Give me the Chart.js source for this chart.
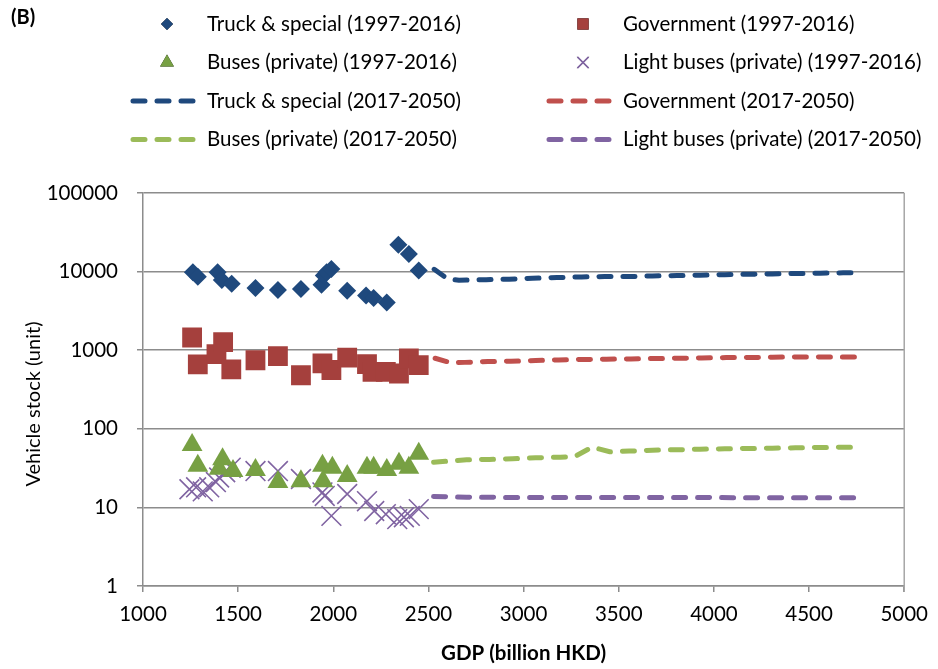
<!DOCTYPE html>
<html>
<head>
<meta charset="utf-8">
<script src="https://cdn.jsdelivr.net/npm/chart.js@4.4.1/dist/chart.umd.min.js"></script>
<style>
  body { margin: 0; background: #fff; }
  #wrap { position: relative; width: 938px; height: 669px; }
</style>
</head>
<body>
<div id="wrap"><canvas id="chart" width="938" height="669"></canvas></div>
<script>
// observed 1997-2016 (GDP in billion HKD, stock in units)
const truckGdp   = [1262, 1288, 1392, 1414, 1466, 1591, 1709, 1830, 1938, 1950, 1965, 1990, 2073, 2172, 2212, 2281, 2342, 2397, 2449];
const truckStock = [9800, 8600, 9800, 7800, 7000, 6200, 5850, 6000, 6800, 8900, 9800, 10800, 5700, 4950, 4600, 4050, 22000, 16800, 10300];

const govGdp   = [1258, 1288, 1386, 1421, 1464, 1591, 1709, 1830, 1943, 1990, 2073, 2177, 2206, 2276, 2345, 2397, 2449];
const govStock = [1450, 660, 890, 1270, 570, 745, 840, 480, 680, 560, 805, 665, 530, 530, 505, 785, 645];

const busGdp   = [1258, 1288, 1400, 1418, 1473, 1591, 1709, 1830, 1943, 1946, 1995, 2073, 2177, 2212, 2281, 2345, 2397, 2449];
const busStock = [62, 34, 31, 41, 29, 30, 21, 21.5, 34, 21.5, 32, 25, 32, 32, 30, 36, 32, 48];

const lightGdp   = [1244, 1279, 1314, 1348, 1383, 1400, 1432, 1461, 1591, 1709, 1830, 1943, 1955, 1990, 2073, 2177, 2215, 2276, 2336, 2371, 2402, 2449];
const lightStock = [17, 18, 16, 18, 21, 24, 28, 32, 29, 29, 23, 15.5, 14, 7.8, 14.8, 12, 9, 8.2, 7.1, 7.5, 7.8, 9.5];

// projections 2017-2050
const truckLineGdp   = [2530, 2600, 2660, 2803, 2924, 3046, 3175, 3305, 3426, 3555, 3676, 3806, 3927, 4057, 4178, 4307, 4428, 4558, 4679, 4774];
const truckLineStock = [10700, 8100, 7750, 7900, 8000, 8250, 8400, 8550, 8650, 8650, 8800, 8900, 9000, 9150, 9250, 9350, 9450, 9550, 9650, 9700];

const govLineGdp   = [2535, 2620, 2691, 2812, 2933, 3063, 3184, 3313, 3435, 3564, 3685, 3815, 3936, 4065, 4187, 4308, 4437, 4558, 4679, 4774];
const govLineStock = [790, 690, 700, 718, 724, 740, 753, 762, 768, 775, 783, 790, 797, 805, 807, 815, 820, 822, 822, 822];

const busLineGdp   = [2527, 2700, 2821, 2942, 3063, 3193, 3270, 3360, 3452, 3555, 3676, 3806, 3927, 4057, 4178, 4307, 4428, 4549, 4679, 4774];
const busLineStock = [37.5, 40.4, 40.8, 41.5, 42.8, 43.5, 44.5, 58.5, 51, 52, 53.5, 54.1, 55, 55.7, 56.1, 56.6, 57.3, 57.8, 58.3, 58.3];

const lightLineGdp   = [2527, 2700, 2900, 3100, 3300, 3500, 3700, 3900, 4100, 4300, 4500, 4774];
const lightLineStock = [13.8, 13.5, 13.4, 13.4, 13.4, 13.4, 13.4, 13.4, 13.3, 13.3, 13.3, 13.3];

const yTicks = [1, 10, 100, 1000, 10000, 100000];

const labels = [
  'Truck & special (1997-2016)', 'Government (1997-2016)',
  'Buses (private) (1997-2016)', 'Light buses (private) (1997-2016)',
  'Truck & special (2017-2050)', 'Government (2017-2050)',
  'Buses (private) (2017-2050)', 'Light buses (private) (2017-2050)'
];

function pts(xs, ys) {
  return xs.map((x, i) => ({ x: x, y: ys[i] }));
}

function marks(label, xs, ys, style, radius, color, cross) {
  return {
    label: label,
    data: pts(xs, ys),
    showLine: false,
    pointStyle: style,
    pointRadius: radius,
    pointHoverRadius: radius,
    pointBackgroundColor: color,
    pointBorderColor: color,
    pointBorderWidth: cross ? 1.6 : 0
  };
}

function dashed(label, xs, ys, color) {
  return {
    label: label,
    data: pts(xs, ys),
    showLine: true,
    borderColor: color,
    borderWidth: 5,
    borderDash: [12, 12],
    borderCapStyle: 'round',
    pointRadius: 0,
    tension: 0
  };
}

const FONT = 'Lato, "Open Sans", sans-serif';

// draws the two-column legend, axis titles and the right plot border
const extras = {
  id: 'extras',
  afterDraw(chart) {
    const ctx = chart.ctx;
    const area = chart.chartArea;
    ctx.save();

    ctx.strokeStyle = '#a6a6a6';
    ctx.lineWidth = 1.5;
    ctx.beginPath();
    ctx.moveTo(area.right, area.top);
    ctx.lineTo(area.right, area.bottom + 6);
    ctx.stroke();

    ctx.fillStyle = '#000';
    ctx.font = 'bold 20px ' + FONT;
    ctx.textBaseline = 'middle';
    ctx.textAlign = 'left';
    ctx.fillText('(B)', 11, 18);

    ctx.textAlign = 'center';
    ctx.font = 'bold 20.5px ' + FONT;
    ctx.fillText('GDP (billion HKD)', (area.left + area.right) / 2, 653);

    ctx.save();
    ctx.translate(34, 404);
    ctx.rotate(-Math.PI / 2);
    ctx.font = '20px ' + FONT;
    ctx.fillText('Vehicle stock (unit)', 0, 0);
    ctx.restore();

    chart.data.datasets.forEach((ds, i) => {
      const col = i % 2;
      const y = 24 + Math.floor(i / 2) * 38.5;
      const mx = col ? 583 : 167;
      const tx = col ? 623 : 207;
      if (ds.showLine) {
        ctx.save();
        ctx.strokeStyle = ds.borderColor;
        ctx.lineWidth = 5;
        ctx.lineCap = 'round';
        ctx.setLineDash([12, 12]);
        ctx.beginPath();
        ctx.moveTo(mx - 34, y);
        ctx.lineTo(mx + 26, y);
        ctx.stroke();
        ctx.restore();
      } else {
        const small = { rect: 8, triangle: 8, crossRot: 8, rectRot: 6 };
        Chart.helpers.drawPoint(ctx, {
          pointStyle: ds.pointStyle,
          radius: small[ds.pointStyle] || 6,
          borderWidth: ds.pointBorderWidth,
          rotation: 0
        }, mx, y);
        ctx.fillStyle = ds.pointBackgroundColor;
        ctx.strokeStyle = ds.pointBorderColor;
        ctx.lineWidth = ds.pointBorderWidth || 1;
        if (ds.pointStyle === 'crossRot') ctx.stroke(); else ctx.fill();
      }
      ctx.fillStyle = '#000';
      ctx.textAlign = 'left';
      ctx.font = '20.5px ' + FONT;
      ctx.fillText(ds.label, tx, y);
    });
    ctx.restore();
  }
};

new Chart(document.getElementById('chart'), {
  type: 'scatter',
  data: {
    datasets: [
      marks(labels[0], truckGdp, truckStock, 'rectRot', 9, '#1F497D'),
      marks(labels[1], govGdp, govStock, 'rect', 14, '#A5403D'),
      marks(labels[2], busGdp, busStock, 'triangle', 12, '#77A043'),
      marks(labels[3], lightGdp, lightStock, 'crossRot', 14, '#8064A2', true),
      dashed(labels[4], truckLineGdp, truckLineStock, '#1F497D'),
      dashed(labels[5], govLineGdp, govLineStock, '#C0504D'),
      dashed(labels[6], busLineGdp, busLineStock, '#9BBB59'),
      dashed(labels[7], lightLineGdp, lightLineStock, '#8064A2')
    ]
  },
  options: {
    responsive: false,
    animation: false,
    layout: { padding: { left: 0, top: 193, right: 25, bottom: 0 } },
    plugins: { legend: { display: false }, tooltip: { enabled: false } },
    scales: {
      x: {
        type: 'linear',
        min: 1000,
        max: 5000,
        afterFit: s => { s.height = 83; },
        ticks: { stepSize: 500, color: '#000', padding: 10, font: { family: FONT, size: 20.5 }, callback: v => String(v) },
        grid: { drawOnChartArea: false, drawTicks: true, tickLength: 6, tickColor: '#8c8c8c', lineWidth: 1.5 },
        border: { color: '#8c8c8c', width: 1.5 }
      },
      y: {
        type: 'logarithmic',
        min: 1,
        max: 100000,
        afterFit: s => { s.width = 143; },
        afterBuildTicks: s => { s.ticks = yTicks.map(v => ({ value: v })); },
        ticks: { color: '#000', padding: 19, font: { family: FONT, size: 20.5 }, callback: v => String(v) },
        grid: { color: '#8c8c8c', lineWidth: 1.5, tickLength: 6 },
        border: { color: '#8c8c8c', width: 1.5 }
      }
    }
  },
  plugins: [extras]
});
</script>
</body>
</html>
